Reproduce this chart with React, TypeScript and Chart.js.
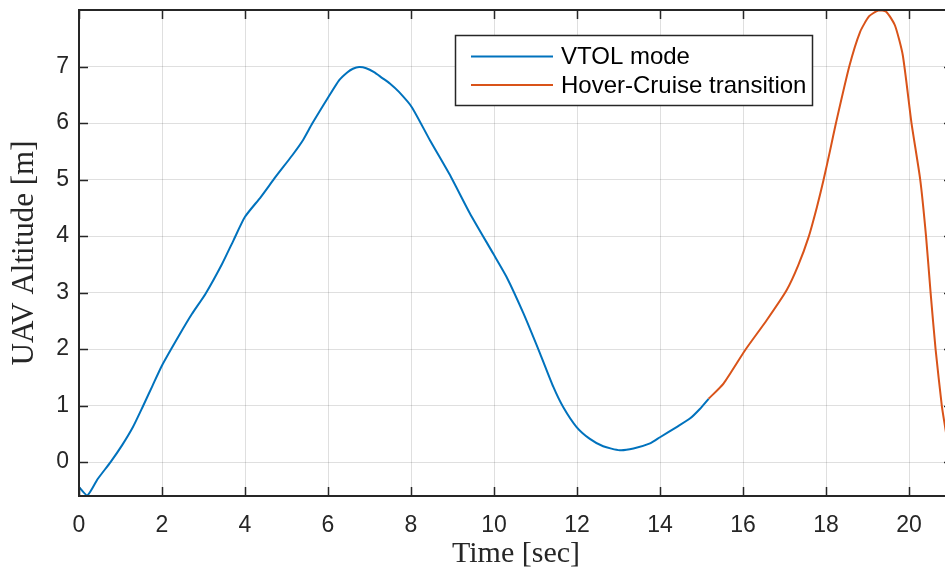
import React, { useEffect, useRef } from "react";
import { Chart, registerables } from "chart.js";
Chart.register(...registerables);

// ---- data ----
const vtolTime = [0, 0.2, 0.45, 0.76, 1.04, 1.3, 1.53, 1.77, 2.0, 2.41, 2.72, 3.05, 3.45, 3.72, 4.0, 4.38, 4.74, 5.14, 5.4, 5.62, 6.01, 6.27, 6.47, 6.6, 6.75, 6.92, 7.11, 7.3, 7.49, 7.71, 8.02, 8.46, 8.96, 9.42, 9.98, 10.3, 10.71, 11.11, 11.43, 11.67, 11.99, 12.31, 12.63, 13.03, 13.36, 13.76, 14.0, 14.4, 14.72, 14.96, 15.17];
const vtolAlt = [-0.44, -0.59, -0.3, 0.0, 0.3, 0.62, 0.97, 1.35, 1.71, 2.24, 2.62, 2.98, 3.51, 3.92, 4.34, 4.69, 5.05, 5.43, 5.7, 5.99, 6.46, 6.76, 6.9, 6.96, 6.99, 6.97, 6.9, 6.8, 6.7, 6.55, 6.28, 5.69, 5.05, 4.4, 3.69, 3.28, 2.63, 1.92, 1.33, 0.97, 0.62, 0.41, 0.28, 0.21, 0.24, 0.33, 0.44, 0.62, 0.77, 0.94, 1.12];
const transTime = [15.17, 15.53, 16.05, 16.57, 17.05, 17.33, 17.58, 17.78, 17.94, 18.1, 18.24, 18.56, 18.82, 19.04, 19.26, 19.45, 19.66, 19.85, 20.06, 20.27, 20.41, 20.52, 20.64, 20.79, 20.87, 20.95];
const transAlt = [1.12, 1.39, 1.98, 2.51, 3.04, 3.48, 3.98, 4.51, 4.99, 5.52, 6.0, 7.0, 7.61, 7.89, 7.99, 7.97, 7.73, 7.2, 6.0, 5.0, 4.0, 3.0, 2.0, 1.0, 0.62, 0.25];
const xTicks = [0, 2, 4, 6, 8, 10, 12, 14, 16, 18, 20];
const yTicks = [0, 1, 2, 3, 4, 5, 6, 7];
const seriesLabels = ["VTOL mode", "Hover-Cruise transition"];
const seriesColors = ["#0072BD", "#D95319"];
const xLabel = "Time [sec]";
const yLabel = "UAV Altitude [m]";
const xRange = [0, 21.06];
const yRange = [-0.6, 8.0];

const AXIS = "#262626";
const SANS = "'Liberation Sans', Arial, Helvetica, sans-serif";
const SERIF = "'Liberation Serif', 'Times New Roman', serif";

const matlabPlugin = {
  id: "matlabAxes",
  afterDatasetsDraw(chart: any) {
    const { ctx, chartArea, scales } = chart;
    const { left, right, top, bottom } = chartArea;
    const x = scales.x;
    const y = scales.y;
    const tl = 9;
    ctx.save();
    ctx.strokeStyle = AXIS;
    ctx.lineWidth = 1.5;
    ctx.beginPath();
    for (const v of xTicks) {
      const px = Math.round(x.getPixelForValue(v)) + 0.5;
      ctx.moveTo(px, bottom);
      ctx.lineTo(px, bottom - tl);
      ctx.moveTo(px, top);
      ctx.lineTo(px, top + tl);
    }
    for (const v of yTicks) {
      const py = Math.round(y.getPixelForValue(v)) + 0.5;
      ctx.moveTo(left, py);
      ctx.lineTo(left + tl, py);
      ctx.moveTo(right, py);
      ctx.lineTo(right - tl, py);
    }
    ctx.stroke();
    ctx.lineWidth = 2;
    ctx.strokeRect(left, top, right - left, bottom - top);
    ctx.restore();
  },
  afterDraw(chart: any) {
    const { ctx } = chart;
    ctx.save();
    const bx = 455.5, by = 35.5, bw = 357, bh = 70;
    ctx.fillStyle = "#ffffff";
    ctx.fillRect(bx, by, bw, bh);
    ctx.strokeStyle = AXIS;
    ctx.lineWidth = 1.5;
    ctx.strokeRect(bx, by, bw, bh);
    const rows = [56.5, 85];
    ctx.font = `24px ${SANS}`;
    ctx.textBaseline = "middle";
    ctx.textAlign = "left";
    chart.data.datasets.forEach((ds: any, i: number) => {
      const ry = rows[i];
      ctx.strokeStyle = ds.borderColor;
      ctx.lineWidth = 2;
      ctx.beginPath();
      ctx.moveTo(471, ry);
      ctx.lineTo(553, ry);
      ctx.stroke();
      ctx.fillStyle = "#000000";
      ctx.fillText(ds.label, 561, ry + 1);
    });
    ctx.restore();
  },
};

export default function App() {
  const ref = useRef<HTMLCanvasElement | null>(null);
  useEffect(() => {
    if (!ref.current) return;
    const chart = new Chart(ref.current, {
      type: "line",
      data: {
        datasets: [
          {
            label: seriesLabels[0],
            data: vtolTime.map((t, i) => ({ x: t, y: vtolAlt[i] })),
            borderColor: seriesColors[0],
            borderWidth: 2,
            pointRadius: 0,
            tension: 0.2,
            fill: false,
          },
          {
            label: seriesLabels[1],
            data: transTime.map((t, i) => ({ x: t, y: transAlt[i] })),
            borderColor: seriesColors[1],
            borderWidth: 2,
            pointRadius: 0,
            tension: 0.2,
            fill: false,
          },
        ],
      },
      options: {
        animation: false,
        responsive: false,
        devicePixelRatio: 1,
        layout: { padding: { top: 10, left: 0, right: 0, bottom: 0 } },
        plugins: { legend: { display: false }, tooltip: { enabled: false } },
        scales: {
          x: {
            type: "linear",
            min: xRange[0],
            max: xRange[1],
            afterBuildTicks: (s: any) => {
              s.ticks = xTicks.map((v) => ({ value: v }));
            },
            afterFit: (s: any) => {
              s.height = 79;
              s.paddingLeft = 0;
              s.paddingRight = 0;
              s.paddingTop = 0;
              s.paddingBottom = 0;
            },
            grid: { color: "rgba(38,38,38,0.15)", lineWidth: 1, drawTicks: false },
            border: { display: false },
            ticks: {
              color: AXIS,
              font: { family: SANS, size: 23 },
              padding: 16,
              maxRotation: 0,
              autoSkip: false,
            },
            title: {
              display: true,
              text: xLabel,
              color: AXIS,
              font: { family: SERIF, size: 30 },
              padding: { top: 0, bottom: 3 },
            },
          },
          y: {
            type: "linear",
            min: yRange[0],
            max: yRange[1],
            afterBuildTicks: (s: any) => {
              s.ticks = yTicks.map((v) => ({ value: v }));
            },
            afterFit: (s: any) => {
              s.width = 79;
              s.paddingLeft = 0;
              s.paddingRight = 0;
              s.paddingTop = 0;
              s.paddingBottom = 0;
            },
            grid: { color: "rgba(38,38,38,0.15)", lineWidth: 1, drawTicks: false },
            border: { display: false },
            ticks: {
              color: AXIS,
              font: { family: SANS, size: 23 },
              padding: 10,
              autoSkip: false,
            },
            title: {
              display: true,
              text: yLabel,
              color: AXIS,
              font: { family: SERIF, size: 31 },
              padding: { top: 6, bottom: 0 },
            },
          },
        },
      },
      plugins: [matlabPlugin],
    });
    return () => chart.destroy();
  }, []);
  return (
    <div style={{ position: "fixed", left: 0, top: 0, width: 953, height: 575, background: "#fff" }}>
      <canvas ref={ref} width={953} height={575} style={{ display: "block" }} />
    </div>
  );
}
